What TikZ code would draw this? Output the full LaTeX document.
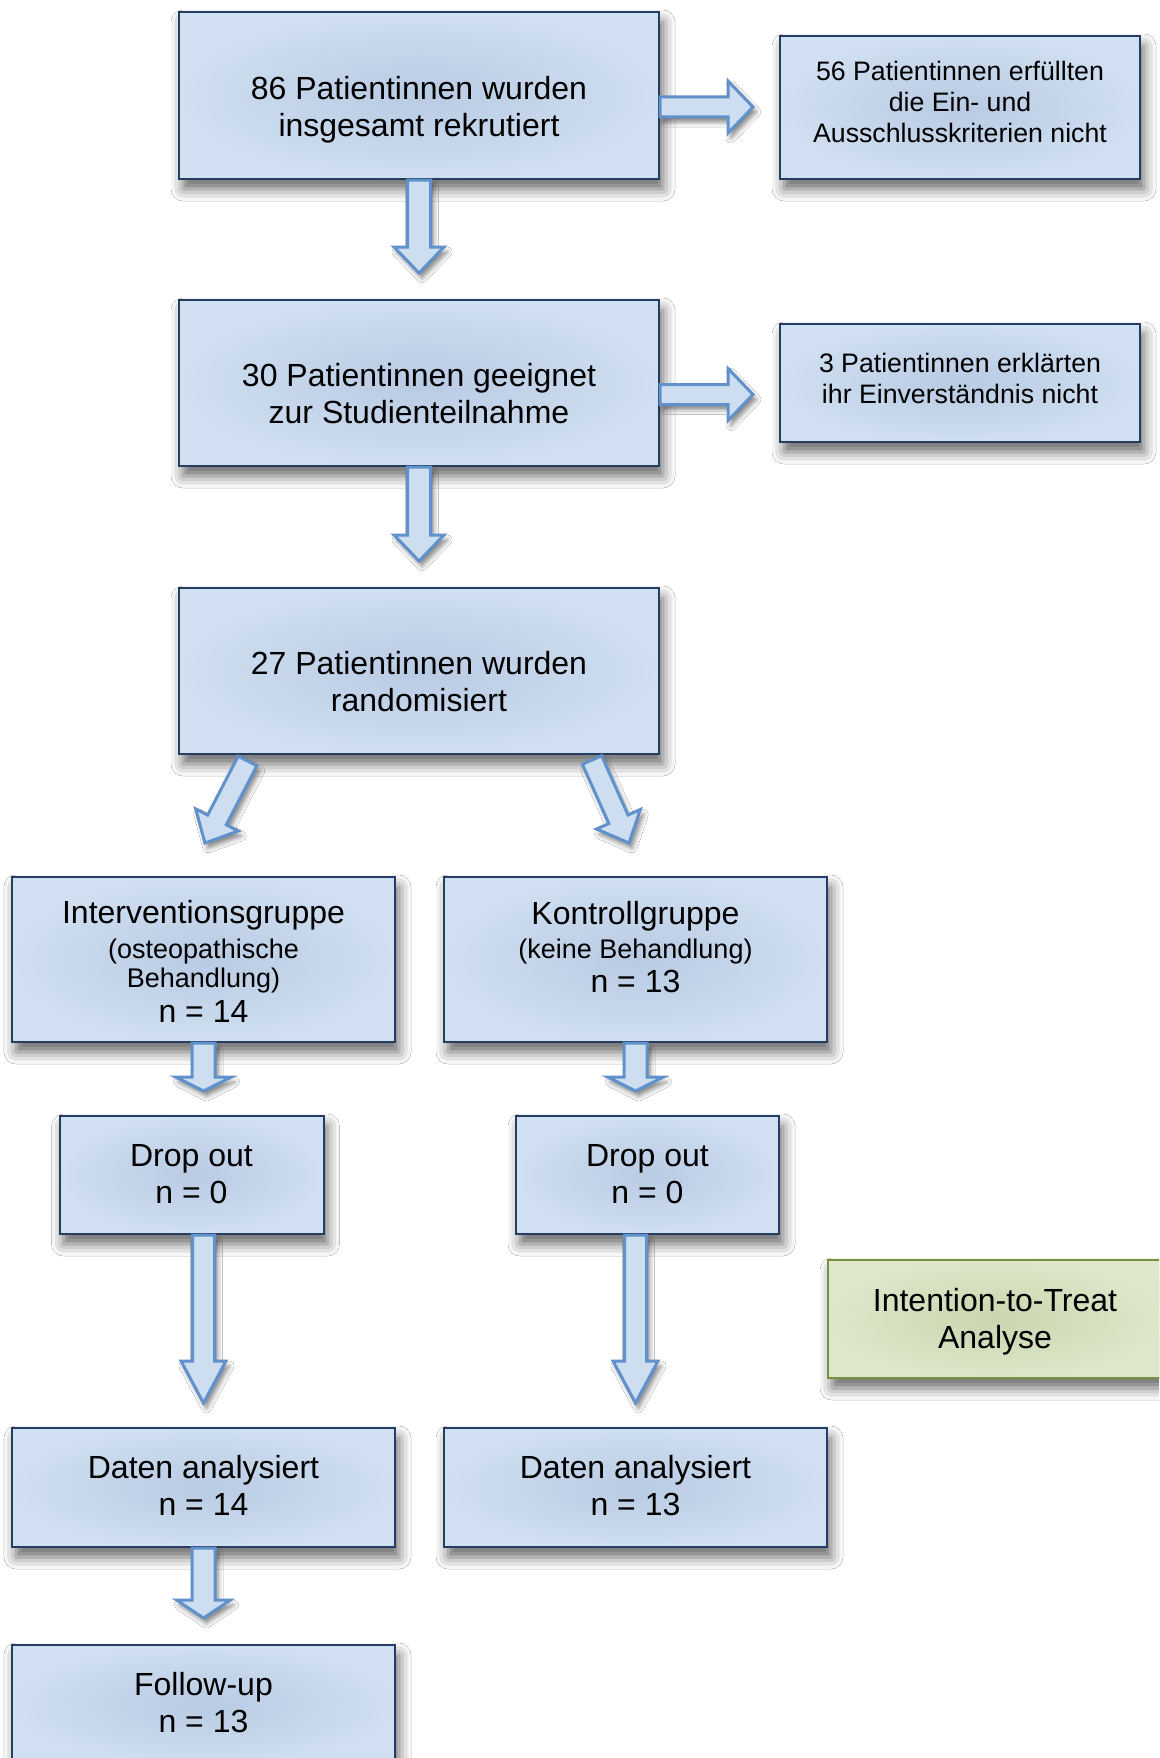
\documentclass[tikz,border=0pt]{standalone}
\usepackage{fontspec}
\setmainfont{Liberation Sans}
\usetikzlibrary{calc,shadows.blur}
\definecolor{bxout}{RGB}{208,223,241}
\definecolor{bxin}{RGB}{184,203,227}
\definecolor{bxline}{RGB}{36,62,95}
\definecolor{arfill}{RGB}{205,222,241}
\definecolor{arline}{RGB}{97,145,202}
\definecolor{gout}{RGB}{221,231,203}
\definecolor{gin}{RGB}{201,214,174}
\definecolor{gline}{RGB}{118,146,60}
\newcommand\mainf{\fontsize{32pt}{37pt}\selectfont}
\newcommand\subf{\fontsize{27pt}{31pt}\selectfont}
\newcommand\sidef{\fontsize{26.7pt}{31pt}\selectfont}
\tikzset{
  box/.style={rectangle, draw=bxline, line width=2pt, shading=radial,
    inner color=bxin, outer color=bxout, inner sep=0pt,
    blur shadow={shadow xshift=4pt, shadow yshift=-10pt, shadow blur radius=12pt, shadow opacity=60}},
  gbox/.style={box, draw=gline, inner color=gin, outer color=gout},
  txt/.style={align=center, inner sep=0pt, text depth=0pt, font=\mainf},
  stxt/.style={txt, font=\sidef},
  barrow/.style={draw=arline, fill=arfill, line width=3pt, line join=miter, miter limit=10,
    blur shadow={shadow xshift=3pt, shadow yshift=-5pt, shadow blur radius=5pt, shadow opacity=50}}
}
% block arrow: start, end, shaft half width, head half width, head length
\newcommand\blockarr[5]{%
  \coordinate (ba-s) at #1;
  \coordinate (ba-e) at #2;
  \coordinate (ba-m) at ($(ba-e)!#5!(ba-s)$);
  \draw[barrow] ($(ba-s)!#3!90:(ba-e)$) -- ($(ba-m)!#3!-90:(ba-s)$) -- ($(ba-m)!#4!-90:(ba-s)$)
    -- (ba-e) -- ($(ba-m)!#4!90:(ba-s)$) -- ($(ba-m)!#3!90:(ba-s)$) -- ($(ba-s)!#3!-90:(ba-e)$) -- cycle;}
\begin{document}
\begin{tikzpicture}[x=1pt,y=-1pt]
\useasboundingbox (0,0) rectangle (1159,1758);
\clip (0,0) rectangle (1159,1758);
\fill[white] (0,0) rectangle (1159,1758);
% boxes
\node[box, minimum width=480pt, minimum height=167pt] (b1) at (419,95.5) {};
\node[box, minimum width=360pt, minimum height=143pt] (s1) at (960,107.5) {};
\node[box, minimum width=480pt, minimum height=166pt] (b2) at (419,383) {};
\node[box, minimum width=360pt, minimum height=118pt] (s2) at (960,383) {};
\node[box, minimum width=480pt, minimum height=166pt] (b3) at (419,671) {};
\node[box, minimum width=383pt, minimum height=165pt] (iv) at (203.5,959.5) {};
\node[box, minimum width=383pt, minimum height=165pt] (kg) at (635.5,959.5) {};
\node[box, minimum width=264pt, minimum height=118pt] (d1) at (191.5,1175) {};
\node[box, minimum width=263pt, minimum height=118pt] (d2) at (647.5,1175) {};
\node[gbox, minimum width=334pt, minimum height=118pt] (itt) at (995,1319) {};
\node[box, minimum width=383pt, minimum height=119pt] (dl) at (203.5,1487.5) {};
\node[box, minimum width=383pt, minimum height=119pt] (dr) at (635.5,1487.5) {};
\node[box, minimum width=383pt, minimum height=119pt] (fu) at (203.5,1704.5) {};
% texts
\node[txt] (b1t) at ([yshift=-10.5pt]b1.center) {86 Patientinnen wurden\\insgesamt rekrutiert};
\node[stxt] (s1t) at ([yshift=5.5pt]s1.center) {56 Patientinnen erfüllten\\die Ein- und\\Ausschlusskriterien nicht};
\node[txt] (b2t) at ([yshift=-10.5pt]b2.center) {30 Patientinnen geeignet\\zur Studienteilnahme};
\node[stxt] (s2t) at ([yshift=5pt]s2.center) {3 Patientinnen erklärten\\ihr Einverständnis nicht};
\node[txt] (b3t) at ([yshift=-10.5pt]b3.center) {27 Patientinnen wurden\\randomisiert};
\node[txt] (ivt) at ([yshift=-2pt]iv.center) {Interventionsgruppe\\[-2.5pt]{\subf (osteopathische}\\[-8pt]{\subf Behandlung)}\\[-1.5pt]n = 14};
\node[txt] (kgt) at ([yshift=13pt]kg.center) {Kontrollgruppe\\[-2.5pt]{\subf (keine Behandlung)}\\[-3.5pt]n = 13};
\node[txt] (d1t) at ([yshift=1.5pt]d1.center) {Drop out\\n = 0};
\node[txt] (d2t) at ([yshift=1.5pt]d2.center) {Drop out\\n = 0};
\node[txt] (ittt) at ([yshift=1pt]itt.center) {Intention-to-Treat\\Analyse};
\node[txt] (dlt) at ([yshift=2.5pt]dl.center) {Daten analysiert\\n = 14};
\node[txt] (drt) at ([yshift=2.5pt]dr.center) {Daten analysiert\\n = 13};
\node[txt] (fut) at ([yshift=2.5pt]fu.center) {Follow-up\\n = 13};
% arrows
\blockarr{([yshift=-11.5pt]b1.east)}{([xshift=93pt,yshift=-11.5pt]b1.east)}{10pt}{26pt}{25pt}
\blockarr{([yshift=-11.5pt]b2.east)}{([xshift=93pt,yshift=-11.5pt]b2.east)}{10pt}{26pt}{25pt}
\blockarr{(b1.south)}{([yshift=-93pt]b1.south)}{11.5pt}{25pt}{26pt}
\blockarr{(b2.south)}{([yshift=-94pt]b2.south)}{11.5pt}{25pt}{26pt}
\blockarr{([xshift=-171.5pt,yshift=-6pt]b3.south)}{([xshift=1.5pt,yshift=33pt]iv.north)}{10.5pt}{24pt}{26pt}
\blockarr{([xshift=173pt,yshift=-5pt]b3.south)}{([xshift=-6.5pt,yshift=33pt]kg.north)}{10.5pt}{24pt}{26pt}
\blockarr{(iv.south)}{([yshift=-48pt]iv.south)}{11.5pt}{28pt}{14pt}
\blockarr{(kg.south)}{([yshift=-48pt]kg.south)}{11.5pt}{28pt}{14pt}
\blockarr{(d1.south -| iv.south)}{($(d1.south -| iv.south)+(0,168)$)}{11pt}{22.5pt}{42pt}
\blockarr{(d2.south -| kg.south)}{($(d2.south -| kg.south)+(0,168)$)}{11pt}{22.5pt}{42pt}
\blockarr{(dl.south)}{([yshift=-70pt]dl.south)}{11.5pt}{27pt}{18pt}
\end{tikzpicture}
\end{document}
